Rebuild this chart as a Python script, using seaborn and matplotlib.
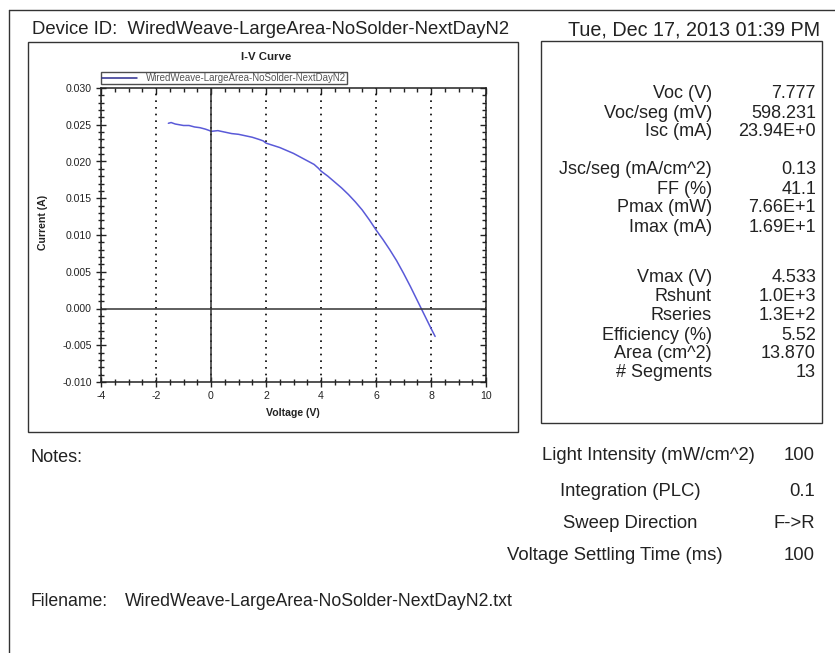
import matplotlib
matplotlib.use("Agg")
import matplotlib.pyplot as plt
import seaborn as sns
from matplotlib.patches import Rectangle
from matplotlib.lines import Line2D
from matplotlib.ticker import MultipleLocator, FormatStrFormatter, NullFormatter

# ---- measured I-V sweep ----
voltage = [-1.55, -1.45, -1.3, -1.15, -1.0, -0.8, -0.6, -0.4, -0.2, -0.05, 0.0,
           0.25, 0.5, 0.75, 1.0, 1.25, 1.5, 1.75, 1.9, 2.0, 2.25, 2.5, 2.75,
           3.0, 3.25, 3.5, 3.75, 3.9, 4.0, 4.25, 4.5, 4.75, 5.0, 5.25, 5.5,
           5.75, 6.0, 6.25, 6.5, 6.75, 7.0, 7.25, 7.5, 7.75, 8.0, 8.15]
current = [0.0252, 0.0253, 0.0251, 0.0250, 0.0249, 0.0249, 0.0247, 0.0246,
           0.0244, 0.0242, 0.0241, 0.0242, 0.0240, 0.0238, 0.0237, 0.0235,
           0.0233, 0.0230, 0.0228, 0.0225, 0.0222, 0.0219, 0.0215, 0.0211,
           0.0206, 0.0201, 0.0196, 0.0191, 0.0187, 0.0180, 0.0172, 0.0164,
           0.0155, 0.0145, 0.0134, 0.0121, 0.0107, 0.0094, 0.0080, 0.0065,
           0.0048, 0.0030, 0.0011, -0.0008, -0.0027, -0.0038]

device_id = "WiredWeave-LargeArea-NoSolder-NextDayN2"
timestamp = "Tue, Dec 17, 2013 01:39 PM"
file_name = "WiredWeave-LargeArea-NoSolder-NextDayN2.txt"

result_groups = [
    (["Voc (V)", "Voc/seg (mV)", "Isc (mA)"],
     ["7.777", "598.231", "23.94E+0"]),
    (["Jsc/seg (mA/cm^2)", "FF (%)", "Pmax (mW)", "Imax (mA)"],
     ["0.13", "41.1", "7.66E+1", "1.69E+1"]),
    (["Vmax (V)", "Rshunt", "Rseries", "Efficiency (%)", "Area (cm^2)", "# Segments"],
     ["4.533", "1.0E+3", "1.3E+2", "5.52", "13.870", "13"]),
]
setup_labels = ["Light Intensity (mW/cm^2)", "Integration (PLC)",
                "Sweep Direction", "Voltage Settling Time (ms)"]
setup_values = ["100", "0.1", "F->R", "100"]

# ---- styling ----
sns.set_theme(style="white")
plt.rcParams["font.family"] = ["Liberation Sans", "DejaVu Sans"]
plt.rcParams["axes.unicode_minus"] = False
INK = "#222222"
CURVE = "#5a5ad8"

W, H = 835, 653
fig = plt.figure(figsize=(W / 100, H / 100), dpi=100)
fig.patch.set_facecolor("white")


def fx(x):
    return x / W


def fy(y):
    return 1 - y / H


# page frame and panels
fig.add_artist(Line2D([fx(9), fx(835)], [fy(10), fy(10)], color="#333", lw=1.0,
                      transform=fig.transFigure))
fig.add_artist(Line2D([fx(9), fx(9)], [fy(10), fy(653)], color="#333", lw=1.0,
                      transform=fig.transFigure))
fig.add_artist(Rectangle((fx(28), fy(432)), fx(518 - 28), (432 - 42) / H,
                         fill=False, ec="#333", lw=1.0, transform=fig.transFigure))
fig.add_artist(Rectangle((fx(541), fy(423)), fx(822 - 541), (423 - 41) / H,
                         fill=False, ec="#333", lw=1.0, transform=fig.transFigure))

# ---- I-V plot ----
ax = fig.add_axes([fx(101), fy(382), fx(486 - 101), (382 - 88) / H])
sns.lineplot(x=voltage, y=current, ax=ax, color=CURVE, lw=1.1,
             label=device_id, sort=False, estimator=None)

ax.set_xlim(-4, 10)
ax.set_ylim(-0.010, 0.030)
ax.xaxis.set_major_locator(MultipleLocator(2))
ax.xaxis.set_minor_locator(MultipleLocator(0.5))
ax.yaxis.set_major_locator(MultipleLocator(0.005))
ax.yaxis.set_minor_locator(MultipleLocator(0.001))
ax.yaxis.set_major_formatter(FormatStrFormatter("%.3f"))
ax.tick_params(which="both", direction="inout", colors=INK, labelsize=7.6,
               bottom=True, left=True, width=1.0)
ax.tick_params(which="major", length=7, pad=3)
ax.tick_params(which="minor", length=4.5)
for s in ax.spines.values():
    s.set_color(INK)
    s.set_linewidth(1.1)

ax.grid(axis="x", which="major", color="black", ls=(0, (1, 3)), lw=1.2)
ax.axvline(0, color="#333", lw=1.1)
ax.axhline(0, color="#333", lw=1.1)

# inward ticks along the top and right edges
secx = ax.secondary_xaxis("top")
secx.xaxis.set_major_locator(MultipleLocator(2))
secx.xaxis.set_minor_locator(MultipleLocator(0.5))
secx.xaxis.set_major_formatter(NullFormatter())
secx.tick_params(which="both", direction="in", colors=INK, width=1.0)
secx.tick_params(which="major", length=4)
secx.tick_params(which="minor", length=3)
secy = ax.secondary_yaxis("right")
secy.yaxis.set_major_locator(MultipleLocator(0.005))
secy.yaxis.set_minor_locator(MultipleLocator(0.001))
secy.yaxis.set_major_formatter(NullFormatter())
secy.tick_params(which="both", direction="in", colors=INK, width=1.0)
secy.tick_params(which="major", length=4)
secy.tick_params(which="minor", length=3)
for sa in (secx, secy):
    for s in sa.spines.values():
        s.set_visible(False)

ax.set_xlabel("")
ax.set_ylabel("")
fig.text(fx(293), fy(413), "Voltage (V)", ha="center", va="center",
         fontsize=7.6, fontweight="bold", color=INK)
fig.text(fx(43), fy(222), "Current (A)", ha="center", va="center",
         rotation=90, fontsize=7.6, fontweight="bold", color=INK)
fig.text(fx(266), fy(57), "I-V Curve", ha="center", va="center",
         fontsize=8.2, fontweight="bold", color=INK)

leg = ax.legend(loc="lower left", bbox_to_anchor=(fx(101), fy(84)),
                bbox_transform=fig.transFigure, fontsize=7.0, frameon=True,
                fancybox=False, edgecolor=INK, borderpad=0.1,
                handlelength=3.6, handletextpad=0.9, borderaxespad=0)
leg.get_frame().set_linewidth(1.0)
leg.get_lines()[0].set_color("#2c2c90")
for t in leg.get_texts():
    t.set_color("#555555")

# ---- header ----
TXT = 13.0
fig.text(fx(32), fy(28), "Device ID:  " + device_id, ha="left",
         va="center_baseline", fontsize=13.3, color=INK)
fig.text(fx(820), fy(28), timestamp, ha="right", va="center_baseline",
         fontsize=14.2, color=INK)

# ---- results panel ----
group_tops = [92, 168, 276]
row_step = 19
for top, (labels, values) in zip(group_tops, result_groups):
    for i, (lab, val) in enumerate(zip(labels, values)):
        y = top + i * row_step
        fig.text(fx(712), fy(y), lab, ha="right", va="center_baseline",
                 fontsize=TXT, color=INK)
        fig.text(fx(816), fy(y), val, ha="right", va="center_baseline",
                 fontsize=TXT, color=INK)

# ---- sweep setup ----
setup_centers = [648, 630, 630, 615]
setup_rows = [454, 489, 521, 553]
for cx, y, lab, val in zip(setup_centers, setup_rows, setup_labels, setup_values):
    fig.text(fx(cx), fy(y), lab, ha="center", va="center_baseline",
             fontsize=13.3, color=INK)
    fig.text(fx(815), fy(y), val, ha="right", va="center_baseline",
             fontsize=13.3, color=INK)

fig.text(fx(30), fy(455), "Notes:", ha="left", va="center_baseline",
         fontsize=TXT, color=INK)
fig.text(fx(30), fy(600), "Filename:", ha="left", va="center_baseline",
         fontsize=12.7, color=INK)
fig.text(fx(125), fy(600), file_name, ha="left", va="center_baseline",
         fontsize=12.7, color=INK)

fig.savefig("out.png", dpi=100, facecolor="white")
